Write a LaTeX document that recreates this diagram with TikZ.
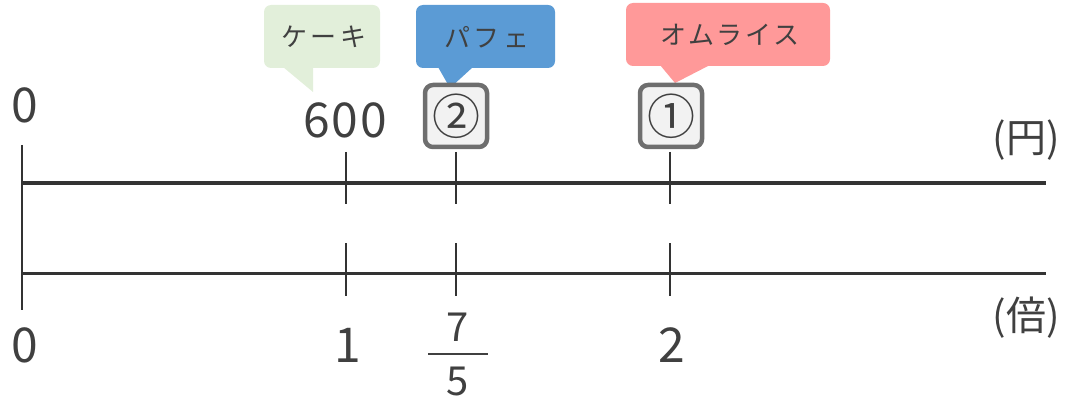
\documentclass[tikz,border=0pt]{standalone}
\usepackage{fontspec}
\setmainfont{Noto Sans CJK JP}
\definecolor{txt}{HTML}{404040}
\definecolor{axis}{HTML}{333333}
\definecolor{cgreen}{HTML}{E2EFDA}
\definecolor{cblue}{HTML}{5B9BD5}
\definecolor{cred}{HTML}{FF9999}
\definecolor{boxfill}{HTML}{F2F2F2}
\definecolor{boxdraw}{HTML}{6E6E6E}
\begin{document}
\begin{tikzpicture}[x=1pt,y=-1pt,
  axisline/.style={draw=axis,line width=3pt},
  tick/.style={draw=axis,line width=1.8pt},
  num/.style={text=txt,font=\fontsize{48}{48}\selectfont\addfontfeature{LetterSpace=4},inner sep=0pt},
  fracnum/.style={text=txt,font=\fontsize{40}{40}\selectfont,inner sep=0pt},
  unit/.style={text=txt,font=\fontsize{40}{40}\selectfont,inner sep=0pt},
  jp/.style={text=txt,font=\fontsize{26}{26}\selectfont\addfontfeature{LetterSpace=12},inner sep=0pt},
  markbox/.style={draw=boxdraw,fill=boxfill,line width=4.5pt,rounded corners=8pt,minimum width=62pt,minimum height=62pt,inner sep=0pt,text=txt,font=\fontsize{48}{48}\selectfont}]
\useasboundingbox (0,0) rectangle (1067,398);
% callouts
\fill[cgreen,rounded corners=7pt] (264,5) rectangle (380,68);
\fill[cgreen] (283,67) -- (313,92) -- (313,67) -- cycle;
\node[jp] (cake) at (324,37) {ケーキ};
\fill[cblue,rounded corners=7pt] (416,5) rectangle (555,68);
\fill[cblue] (438,67) -- (450,88) -- (473,67) -- cycle;
\node[jp] (parfait) at (487,37) {パフェ};
\fill[cred,rounded corners=7pt] (626,3) rectangle (830,66);
\fill[cred] (660,65) -- (675,83) -- (710,65) -- cycle;
\node[jp] (omu) at (730,35) {オムライス};
% axes
\coordinate (t0) at (22,183);
\coordinate (t1) at (1046,183);
\coordinate (b0) at (22,273);
\coordinate (b1) at (1046,273);
\coordinate (v0) at (22,145);
\coordinate (v1) at (22,310);
\draw[axisline] (t0) -- (t1);
\draw[axisline] (b0) -- (b1);
\draw[tick] (v0) -- (v1);
% ticks
\foreach \x/\n in {346/a,456/b,670/c}{
  \coordinate (tt\n) at (\x,152);
  \coordinate (tb\n) at (\x,204);
  \coordinate (bt\n) at (\x,243);
  \coordinate (bb\n) at (\x,296);
  \draw[tick] (tt\n) -- (tb\n);
  \draw[tick] (bt\n) -- (bb\n);
}
% boxes
\node[markbox] (m2) at (456,116) {②};
\node[markbox] (m1) at (671,116) {①};
% labels
\node[num] (z0) at (25,105) {0};
\node[num] (p600) at (345,120) {600};
\node[unit] (yen) at (1026,140) {(円)};
\node[num] (z1) at (25,345) {0};
\node[num] (one) at (348,345) {1};
\node[num] (two) at (672,345) {2};
\node[unit] (bai) at (1026,318) {(倍)};
\node[fracnum] (f7) at (458,327) {7};
\node[fracnum] (f5) at (458,381) {5};
\coordinate (fl) at (428,354);
\coordinate (fr) at (488,354);
\draw[draw=txt,line width=1.3pt] (fl) -- (fr);
\end{tikzpicture}
\end{document}
